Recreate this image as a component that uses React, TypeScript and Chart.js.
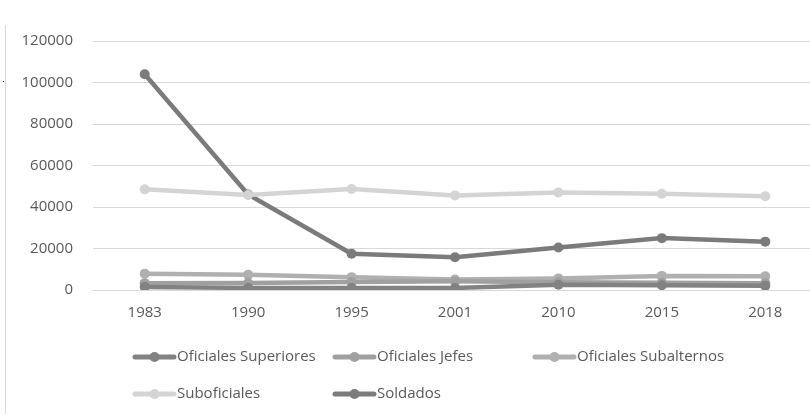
import React, { useEffect, useRef } from "react";
import { Chart, registerables } from "chart.js";

Chart.register(...registerables);

const years = ["1983", "1990", "1995", "2001", "2010", "2015", "2018"];
const oficialesSuperiores = [1500, 1000, 1000, 1000, 2500, 2300, 2000];
const oficialesJefes = [3300, 3400, 3800, 4200, 3700, 3500, 3300];
const oficialesSubalternos = [7800, 7300, 6200, 5100, 5600, 6800, 6600];
const suboficiales = [48500, 45800, 48700, 45600, 47000, 46400, 45200];
const soldados = [104000, 46000, 17500, 15800, 20500, 25000, 23300];

const seriesNames = [
  "Oficiales Superiores",
  "Oficiales Jefes",
  "Oficiales Subalternos",
  "Suboficiales",
  "Soldados",
];
const seriesColors = ["#828282", "#a0a0a0", "#b0b0b0", "#d4d4d4", "#7b7b7b"];
const seriesData = [oficialesSuperiores, oficialesJefes, oficialesSubalternos, suboficiales, soldados];

const FONT = '"Open Sans", sans-serif';
const TEXT = "#595959";

const legendPlugin = {
  id: "customLegend",
  afterDraw(chart: any) {
    const ctx = chart.ctx;
    ctx.save();
    // left frame border
    ctx.strokeStyle = "#d9d9d9";
    ctx.lineWidth = 1;
    ctx.beginPath();
    ctx.moveTo(5.5, 25);
    ctx.lineTo(5.5, 414);
    ctx.stroke();
    ctx.fillStyle = "#333";
    ctx.fillRect(3, 81, 1, 1);

    const cols = [133, 333, 533];
    const rows = [357, 394];
    ctx.font = "15px " + FONT;
    ctx.textBaseline = "middle";
    ctx.textAlign = "left";
    seriesNames.forEach((name, i) => {
      const x = cols[i % 3];
      const y = rows[Math.floor(i / 3)];
      ctx.strokeStyle = seriesColors[i];
      ctx.fillStyle = seriesColors[i];
      ctx.lineWidth = 5;
      ctx.lineCap = "round";
      ctx.beginPath();
      ctx.moveTo(x + 2, y);
      ctx.lineTo(x + 41, y);
      ctx.stroke();
      ctx.beginPath();
      ctx.arc(x + 21.5, y, 5, 0, Math.PI * 2);
      ctx.fill();
      ctx.fillStyle = TEXT;
      ctx.fillText(name, x + 44, y);
    });
    ctx.restore();
  },
};

export default function App() {
  const ref = useRef<HTMLCanvasElement | null>(null);
  useEffect(() => {
    if (!ref.current) return;
    const chart = new Chart(ref.current, {
      type: "line",
      data: {
        labels: years,
        datasets: seriesNames.map((name, i) => ({
          label: name,
          data: seriesData[i],
          borderColor: seriesColors[i],
          backgroundColor: seriesColors[i],
          borderWidth: 4.5,
          pointRadius: 5,
          pointHoverRadius: 5,
          pointBorderWidth: 0,
          pointBackgroundColor: seriesColors[i],
          tension: 0,
        })),
      },
      options: {
        animation: false,
        responsive: false,
        maintainAspectRatio: false,
        layout: { padding: { top: 41, right: 2, left: 0, bottom: 0 } },
        plugins: { legend: { display: false }, tooltip: { enabled: false } },
        scales: {
          x: {
            offset: true,
            grid: { display: false, drawTicks: false },
            border: { display: false },
            ticks: { color: TEXT, font: { family: FONT, size: 15 }, padding: 14, maxRotation: 0 },
            afterFit: (s: any) => {
              s.height = 124;
            },
          },
          y: {
            min: 0,
            max: 120000,
            grid: { color: "#d9d9d9", lineWidth: 1, drawTicks: false },
            border: { display: false },
            ticks: {
              stepSize: 20000,
              color: TEXT,
              font: { family: FONT, size: 15 },
              padding: 20,
              callback: (v: any) => String(v),
            },
            afterFit: (s: any) => {
              s.width = 93;
            },
          },
        },
      },
      plugins: [legendPlugin],
    });
    return () => chart.destroy();
  }, []);
  return (
    <div style={{ position: "fixed", left: 0, top: 0, width: 810, height: 414, overflow: "hidden", background: "#fff" }}>
      <canvas ref={ref} width={822} height={414} style={{ display: "block", width: 822, height: 414 }} />
    </div>
  );
}
